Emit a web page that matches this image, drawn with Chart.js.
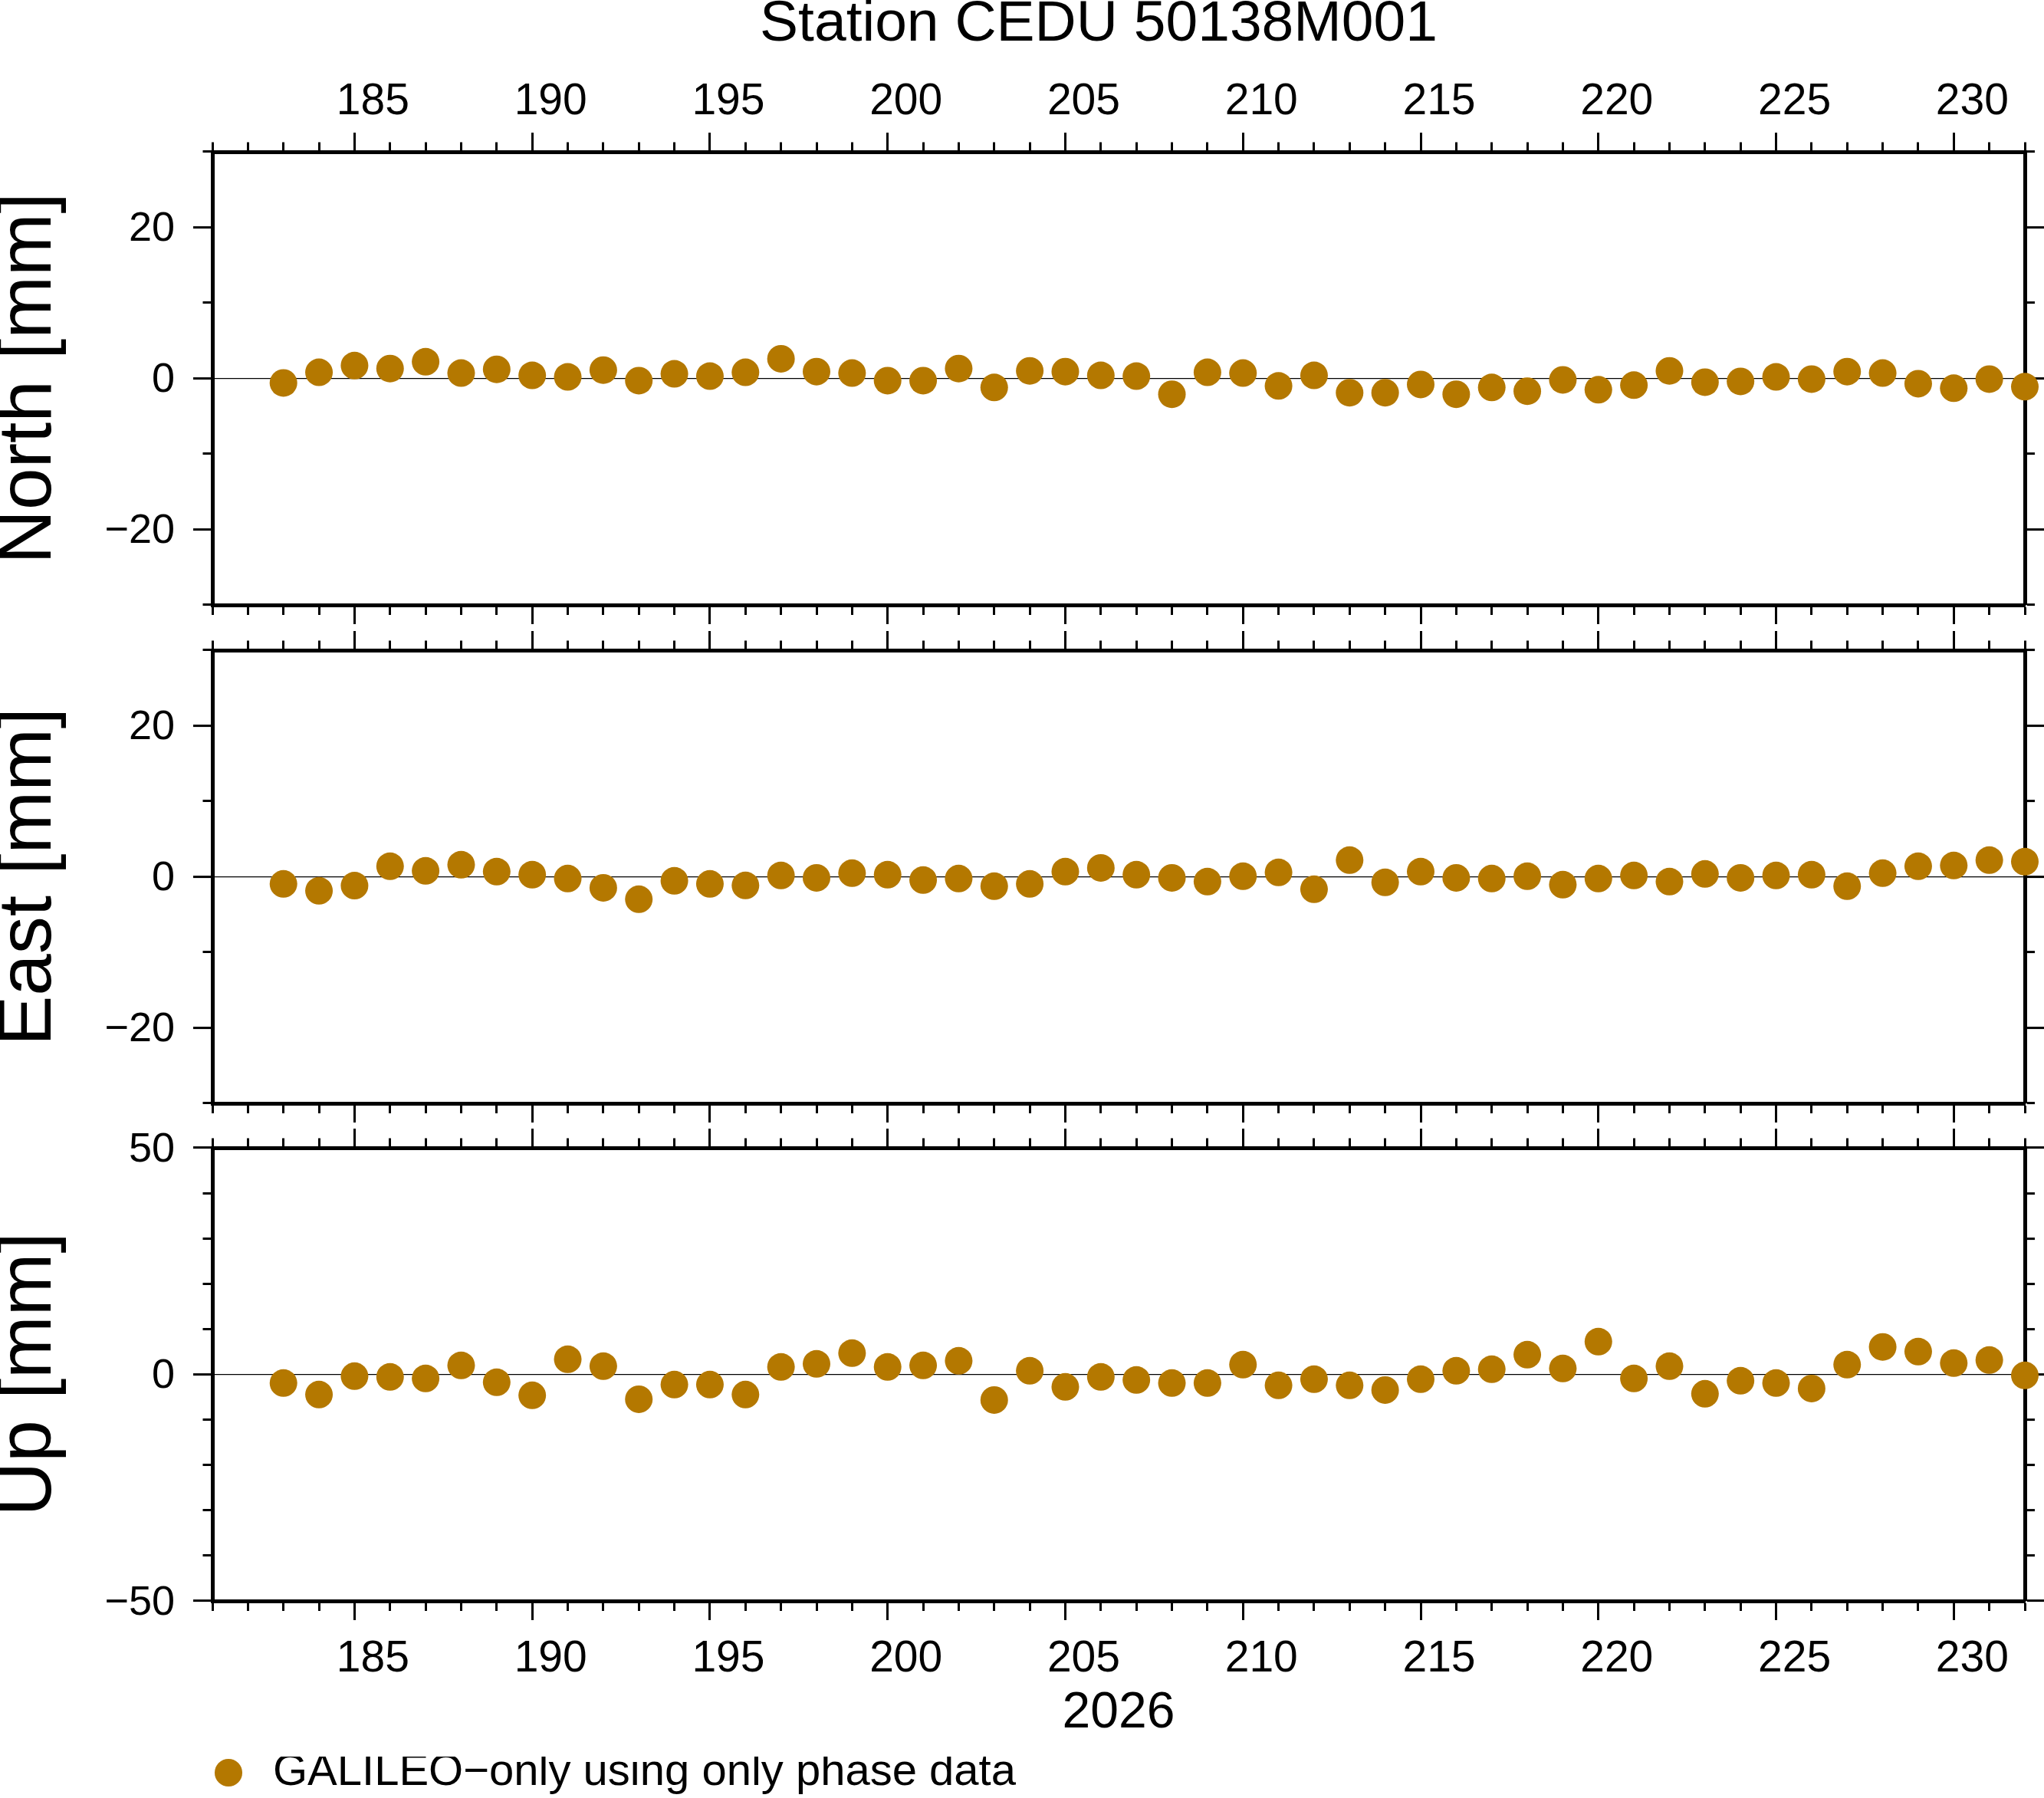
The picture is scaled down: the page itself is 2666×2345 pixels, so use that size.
<!DOCTYPE html>
<html>
<head>
<meta charset="utf-8">
<script src="https://cdn.jsdelivr.net/npm/chart.js@4.4.1/dist/chart.umd.min.js"></script>
<style>
  html, body { margin: 0; padding: 0; background: #fff; overflow: hidden; }
  body { width: 2666px; height: 2345px; position: relative; }
  canvas { position: absolute; left: 0; }
</style>
</head>
<body>
<canvas id="north" width="2666" height="818" style="top:0px"></canvas>
<canvas id="east" width="2666" height="650" style="top:818px"></canvas>
<canvas id="up" width="2666" height="883" style="top:1468px"></canvas>
<script>
// day of year 2026
const days = [183, 184, 185, 186, 187, 188, 189, 190, 191, 192, 193, 194, 195, 196, 197, 198, 199,
  200, 201, 202, 203, 204, 205, 206, 207, 208, 209, 210, 211, 212, 213, 214, 215, 216, 217, 218,
  219, 220, 221, 222, 223, 224, 225, 226, 227, 228, 229, 230, 231, 232];

// residuals in mm
const north = [-0.6, 0.8, 1.7, 1.3, 2.2, 0.7, 1.2, 0.4, 0.2, 1.1, -0.3, 0.6, 0.3, 0.8, 2.6, 0.9, 0.7,
  -0.3, -0.3, 1.3, -1.2, 1.0, 0.9, 0.4, 0.3, -2.1, 0.8, 0.7, -1.0, 0.4, -1.9, -1.9, -0.8, -2.1, -1.2, -1.7,
  -0.2, -1.5, -0.9, 1.0, -0.5, -0.4, 0.2, -0.1, 0.9, 0.7, -0.7, -1.3, -0.1, -1.1];
const east = [-0.95, -1.86, -1.17, 1.39, 0.78, 1.59, 0.68, 0.27, -0.24, -1.46, -2.98, -0.54, -0.95, -1.15, 0.17, -0.14, 0.47,
  0.27, -0.44, -0.24, -1.25, -0.95, 0.68, 1.18, 0.27, -0.14, -0.64, 0.07, 0.58, -1.66, 2.2, -0.74, 0.68, -0.14, -0.24, 0.07,
  -1.05, -0.24, 0.17, -0.64, 0.37, -0.14, 0.17, 0.27, -1.25, 0.47, 1.39, 1.49, 2.2, 2.0];
const up = [-1.92, -4.46, -0.4, -0.56, -0.9, 1.98, -1.75, -4.63, 3.33, 1.81, -5.48, -2.26, -2.26, -4.46, 1.64, 2.32, 4.69,
  1.64, 1.98, 2.99, -5.65, 0.79, -2.77, -0.56, -1.24, -1.92, -1.92, 2.15, -2.43, -1.07, -2.43, -3.45, -1.07, 0.79, 1.13, 4.35,
  1.3, 7.23, -0.9, 1.81, -4.29, -1.41, -1.92, -3.11, 2.15, 6.05, 5.03, 2.49, 3.16, -0.23];

const xMin = 181, xMax = 232, xMajor = 5;
const title = 'Station CEDU 50138M001';
const yearLabel = '2026';
const seriesLabel = 'GALILEO\u2212only using only phase data';

const FONT = "'Liberation Sans', Arial, Helvetica, sans-serif";
const DOT = '#b47800';
Chart.defaults.font.family = FONT;
Chart.defaults.color = '#000';

const minus = v => (v < 0 ? '\u2212' + (-v) : String(v));

// minor ticks: dash keeps only the part next to the frame
const dashIn = [0, 12.5, 100];   // tick drawn outside -> frame (top, left)
const dashOut = [10, 100];       // tick drawn frame -> outside (bottom, right)

function xAxis(position, showLabels, height, axisTitle) {
  return {
    type: 'linear',
    axis: 'x',
    position: position,
    min: xMin,
    max: xMax,
    ticks: {
      display: showLabels,
      stepSize: 1,
      maxTicksLimit: 1000,
      autoSkip: false,
      maxRotation: 0,
      labelOffset: 24,
      padding: position === 'top' ? 6 : 17.5,
      color: '#000',
      font: { size: 57 },
      callback: v => (v % xMajor === 0 ? String(v) : '')
    },
    grid: {
      drawOnChartArea: false,
      tickLength: 25,
      tickWidth: 3,
      tickColor: '#000',
      tickBorderDash: c => (c.tick && c.tick.value % xMajor === 0 ? [] : (position === 'top' ? dashIn : dashOut))
    },
    border: { color: '#000', width: 5 },
    title: axisTitle || { display: false },
    afterFit: s => { s.height = height; s.paddingLeft = 0; s.paddingRight = 0; }
  };
}

function yAxis(position, min, max, major, showLabels, width, axisTitle) {
  return {
    type: 'linear',
    axis: 'y',
    position: position,
    min: min,
    max: max,
    ticks: {
      display: showLabels,
      stepSize: 10,
      maxTicksLimit: 1000,
      autoSkip: false,
      padding: 24,
      labelOffset: 3,
      color: '#000',
      font: { size: 54 },
      callback: v => (v % major === 0 ? minus(v) : '')
    },
    grid: {
      drawOnChartArea: position === 'left',
      color: c => (c.tick && c.tick.value === 0 ? '#000' : 'rgba(0,0,0,0)'),
      lineWidth: 1.2,
      tickLength: 25,
      tickWidth: 3,
      tickColor: '#000',
      tickBorderDash: c => (c.tick && c.tick.value % major === 0 ? [] : (position === 'left' ? dashIn : dashOut))
    },
    border: { color: '#000', width: 5 },
    title: axisTitle || { display: false },
    afterFit: s => { s.width = width; s.paddingTop = 0; s.paddingBottom = 0; }
  };
}

function panel(id, values, yTitle, yMin, yMax, yMajor, cfg) {
  const ctx = document.getElementById(id).getContext('2d');
  // uneven side padding only shifts the centred title; axis widths compensate
  const padLeft = cfg.padLeft || 0;
  const padRight = cfg.padRight || 0;
  return new Chart(ctx, {
    type: 'scatter',
    data: {
      datasets: [{
        label: seriesLabel,
        data: days.map((d, i) => ({ x: d, y: values[i] })),
        backgroundColor: DOT,
        pointBackgroundColor: DOT,
        pointBorderColor: DOT,
        pointBorderWidth: 0,
        borderWidth: 0,
        pointRadius: 18,
        pointHoverRadius: 18,
        clip: false,
        xAxisID: 'x',
        yAxisID: 'y'
      }]
    },
    options: {
      responsive: false,
      devicePixelRatio: 1,
      animation: false,
      events: [],
      layout: { padding: { left: padLeft, right: padRight, top: 0, bottom: 0 } },
      plugins: {
        tooltip: { enabled: false },
        title: cfg.title || { display: false },
        legend: cfg.legend ? {
          display: true,
          position: 'bottom',
          align: 'start',
          fullSize: false,
          labels: {
            usePointStyle: true,
            pointStyle: 'circle',
            boxWidth: 58,
            boxHeight: 25.5,
            padding: -8,
            color: '#000',
            font: { size: 58 }
          }
        } : { display: false }
      },
      scales: {
        x: xAxis('bottom', cfg.bottomLabels, cfg.bottomH, cfg.xTitle),
        x2: xAxis('top', cfg.topLabels, cfg.topH),
        y: yAxis('left', yMin, yMax, yMajor, true, 277 - padLeft, {
          display: true,
          text: yTitle,
          color: '#000',
          font: { size: 98, lineHeight: 0.8 },
          padding: { top: -padLeft, bottom: 0 }
        }),
        y2: yAxis('right', yMin, yMax, yMajor, false, 25 - padRight)
      }
    }
  });
}

// title block: 64.5 px high, x2 axis fills the rest down to the frame at y=198
panel('north', north, 'North [mm]', -30, 30, 20, {
  topLabels: true, bottomLabels: false, topH: 133.5, bottomH: 29, padLeft: 130, padRight: -70,
  title: {
    display: true, text: title, color: '#000', align: 'center', fullSize: true,
    font: { size: 75, weight: 'normal', lineHeight: 0.86 }, padding: { top: 0, bottom: 0 }
  }
});

panel('east', east, 'East [mm]', -30, 30, 20, {
  topLabels: false, bottomLabels: false, topH: 30, bottomH: 29
});

panel('up', up, 'Up [mm]', -50, 50, 50, {
  topLabels: false, bottomLabels: true, topH: 29, bottomH: 203, legend: true,
  xTitle: { display: true, text: yearLabel, color: '#000', font: { size: 66 }, padding: { top: 0, bottom: 17 } }
});
</script>
</body>
</html>
